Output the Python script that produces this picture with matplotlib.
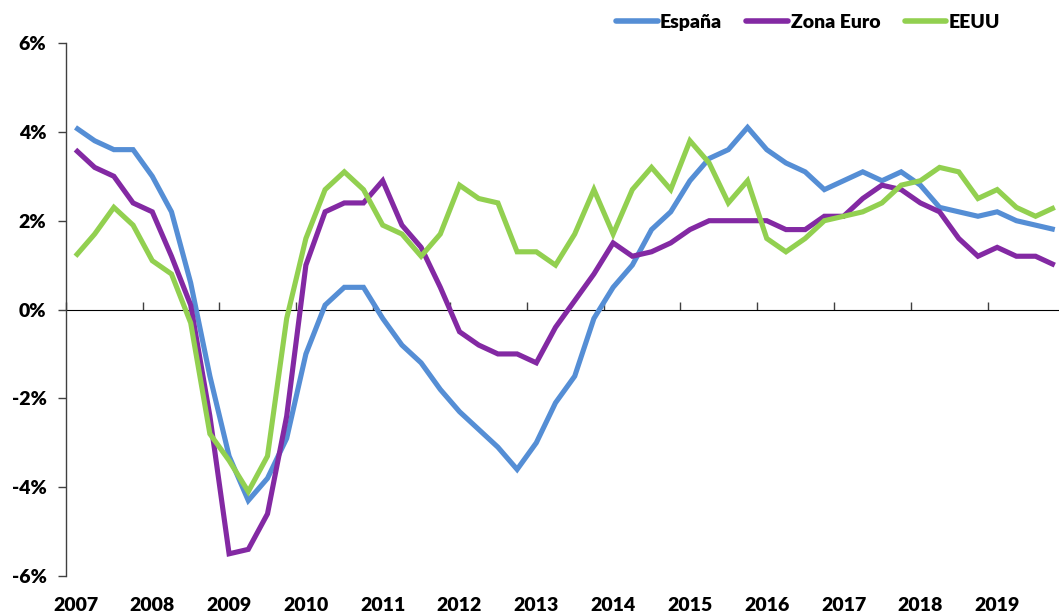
import matplotlib
matplotlib.use("Agg")
import matplotlib.pyplot as plt
import numpy as np

years = [str(y) for y in range(2007, 2020)]
quarters_per_year = 4

espana = [4.1, 3.8, 3.6, 3.6, 3.0, 2.2, 0.6, -1.5,
          -3.3, -4.3, -3.8, -2.9, -1.0, 0.1, 0.5, 0.5,
          -0.2, -0.8, -1.2, -1.8, -2.3, -2.7, -3.1, -3.6,
          -3.0, -2.1, -1.5, -0.2, 0.5, 1.0, 1.8, 2.2,
          2.9, 3.4, 3.6, 4.1, 3.6, 3.3, 3.1, 2.7,
          2.9, 3.1, 2.9, 3.1, 2.8, 2.3, 2.2, 2.1,
          2.2, 2.0, 1.9, 1.8]
zona_euro = [3.6, 3.2, 3.0, 2.4, 2.2, 1.2, 0.1, -2.4,
             -5.5, -5.4, -4.6, -2.4, 1.0, 2.2, 2.4, 2.4,
             2.9, 1.9, 1.4, 0.5, -0.5, -0.8, -1.0, -1.0,
             -1.2, -0.4, 0.2, 0.8, 1.5, 1.2, 1.3, 1.5,
             1.8, 2.0, 2.0, 2.0, 2.0, 1.8, 1.8, 2.1,
             2.1, 2.5, 2.8, 2.7, 2.4, 2.2, 1.6, 1.2,
             1.4, 1.2, 1.2, 1.0]
eeuu = [1.2, 1.7, 2.3, 1.9, 1.1, 0.8, -0.3, -2.8,
        -3.4, -4.1, -3.3, -0.2, 1.6, 2.7, 3.1, 2.7,
        1.9, 1.7, 1.2, 1.7, 2.8, 2.5, 2.4, 1.3,
        1.3, 1.0, 1.7, 2.7, 1.7, 2.7, 3.2, 2.7,
        3.8, 3.3, 2.4, 2.9, 1.6, 1.3, 1.6, 2.0,
        2.1, 2.2, 2.4, 2.8, 2.9, 3.2, 3.1, 2.5,
        2.7, 2.3, 2.1, 2.3]

series = [("España", espana, "#558ED5"),
          ("Zona Euro", zona_euro, "#8329A3"),
          ("EEUU", eeuu, "#92D050")]

plt.rcParams['font.family'] = ['Lato', 'DejaVu Sans']
plt.rcParams['font.weight'] = 'bold'

fig = plt.figure(figsize=(10.59, 6.15), dpi=100)
ax = fig.add_axes([0.0622, 0.0634, 1.0 - 0.0622, 0.930 - 0.0634])

x = np.arange(len(espana))
for name, vals, col in series:
    ax.plot(x, vals, color=col, lw=3.7, label=name, solid_joinstyle='miter',
            solid_capstyle='butt', clip_on=True)

ax.set_ylim(-6, 6)
ax.set_xlim(-0.5, 51.22)
ax.set_yticks(np.arange(-6, 7, 2))
ax.set_yticklabels([f"{v}%" for v in range(-6, 7, 2)], fontsize=14, fontweight='heavy')
ax.tick_params(axis='y', direction='out', length=6, width=1, color='#404040', pad=8)

ax.set_xticks(np.arange(0, len(espana), quarters_per_year))
ax.set_xticklabels(years, fontsize=14, fontweight='heavy')
ax.tick_params(axis='x', length=0, pad=15)

for s in ['top', 'right', 'bottom']:
    ax.spines[s].set_visible(False)
ax.spines['left'].set_color('#404040')
ax.spines['left'].set_linewidth(1)

sec = ax.secondary_xaxis(0.5)
sec.set_xticks(np.arange(-0.5, len(espana), quarters_per_year))
sec.set_xticklabels([])
sec.tick_params(axis='x', direction='out', length=6, width=1, color='#404040')
sec.spines['bottom'].set_color('#404040')
sec.spines['bottom'].set_linewidth(1.3)
sec.set_zorder(0.5)

leg = fig.legend(loc='center right', bbox_to_anchor=(0.961, 0.964), ncol=3,
                 frameon=False, handlelength=2.15, handletextpad=0.12,
                 columnspacing=1.25, prop={'weight': 'heavy', 'size': 14})
for line in leg.get_lines():
    line.set_linewidth(4)
    line.set_solid_capstyle('round')

fig.savefig("out.png", dpi=100)
